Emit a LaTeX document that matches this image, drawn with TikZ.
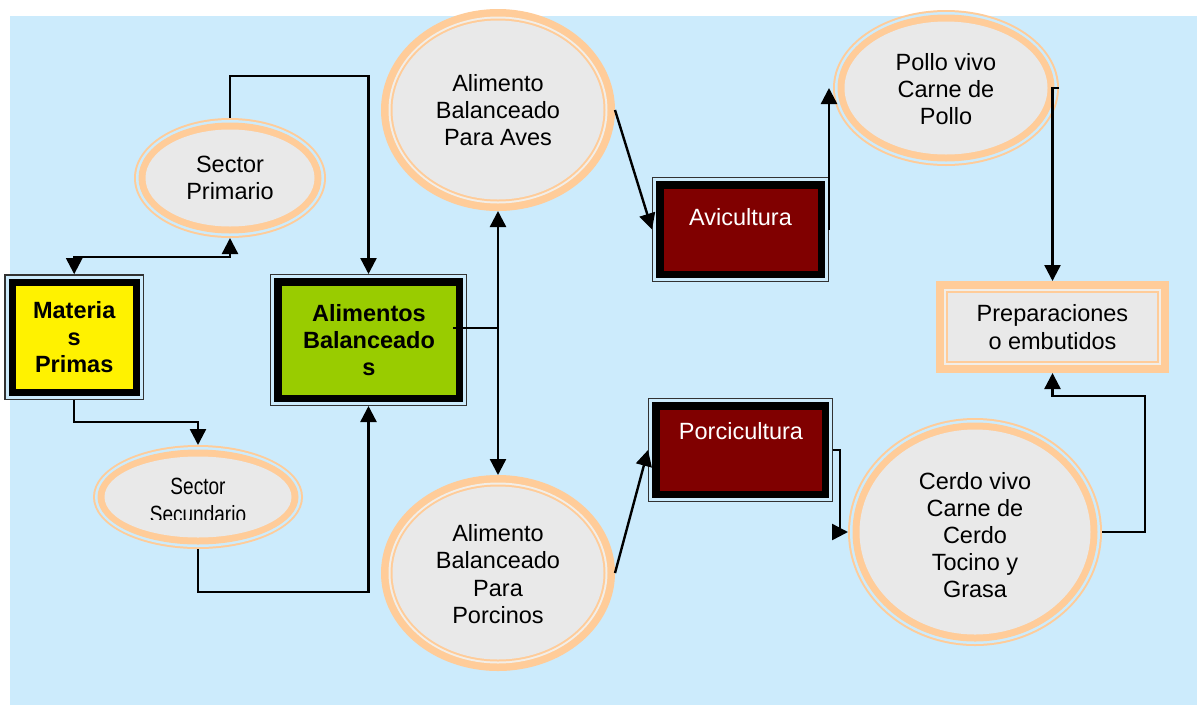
\documentclass[tikz,border=0pt]{standalone}
\usepackage{fontspec}
\setmainfont{Liberation Sans}
\usetikzlibrary{arrows.meta,shapes.geometric}
\definecolor{bgblue}{RGB}{204,235,252}
\definecolor{peach}{RGB}{255,204,153}
\definecolor{fillgray}{RGB}{233,233,233}
\definecolor{paleline}{RGB}{242,238,232}
\definecolor{darkred}{RGB}{128,0,0}
\definecolor{limegreen}{RGB}{153,204,0}
\definecolor{boxline}{RGB}{50,50,50}
\tikzset{
  conn/.style={line width=2.4pt, -{Triangle[length=16pt,width=16pt]}},
  conntwo/.style={line width=2.4pt, {Triangle[length=16pt,width=16pt]}-{Triangle[length=16pt,width=16pt]}},
  plainline/.style={line width=1.5pt},
  lbl/.style={align=center, font=\fontsize{23.5}{27.2}\selectfont, inner sep=0pt},
  lblb/.style={align=center, font=\fontsize{23.5}{27.2}\selectfont\bfseries, inner sep=0pt},
  anchorbox/.style={inner sep=0pt, outer sep=0pt, draw=none},
}
% ellipse: thin outer ring, gap, thick inner band
\newcommand\ringA[5]{%
  \node[anchorbox, ellipse, minimum width=2*#4, minimum height=2*#5] (#1) at (#2,#3) {};
  \fill[peach] (#1.center) ellipse [x radius=#4pt, y radius=#5pt];
  \fill[bgblue] (#1.center) ellipse [x radius=#4pt-2pt, y radius=#5pt-2pt];
  \fill[peach] (#1.center) ellipse [x radius=#4pt-4.5pt, y radius=#5pt-4.5pt];
  \fill[fillgray] (#1.center) ellipse [x radius=#4pt-11.5pt, y radius=#5pt-11.5pt];
}
% ellipse: thick outer band, pale line, thin inner ring
\newcommand\ringB[5]{%
  \node[anchorbox, ellipse, minimum width=2*#4, minimum height=2*#5] (#1) at (#2,#3) {};
  \fill[peach] (#1.center) ellipse [x radius=#4pt, y radius=#5pt];
  \fill[paleline] (#1.center) ellipse [x radius=#4pt-7.5pt, y radius=#5pt-7.5pt];
  \fill[peach] (#1.center) ellipse [x radius=#4pt-9.5pt, y radius=#5pt-9.5pt];
  \fill[fillgray] (#1.center) ellipse [x radius=#4pt-11.5pt, y radius=#5pt-11.5pt];
}
% rectangle: thin outer line, gap, thick black frame, fill
\newcommand\dblbox[6]{%
  \node[anchorbox, minimum width=#4, minimum height=#5] (#1) at (#2,#3) {};
  \fill[boxline] (#1.north west) rectangle (#1.south east);
  \fill[bgblue] ([shift={(1.3,1.3)}]#1.north west) rectangle ([shift={(-1.3,-1.3)}]#1.south east);
  \fill[black] ([shift={(4.3,4.3)}]#1.north west) rectangle ([shift={(-4.3,-4.3)}]#1.south east);
  \fill[#6] ([shift={(11.5,11.5)}]#1.north west) rectangle ([shift={(-11.5,-11.5)}]#1.south east);
}
\begin{document}
\begin{tikzpicture}[x=1pt,y=-1pt]
\useasboundingbox (0,0) rectangle (1197,705);
\fill[white] (0,0) rectangle (1197,705);
\fill[bgblue] (10,16) rectangle (1197,705);

% boxes
\dblbox{mp}{74.2}{337.2}{140}{126}{yellow}
\dblbox{ab}{368.5}{340}{197}{132}{limegreen}
\dblbox{av}{740.5}{229.5}{177}{105}{darkred}
\dblbox{pc}{740.5}{450}{185}{104}{darkred}

% Preparaciones box
\node[anchorbox, minimum width=233, minimum height=92] (pe) at (1052.5,327) {};
\fill[peach] (pe.north west) rectangle (pe.south east);
\fill[paleline] ([shift={(7.7,7.7)}]pe.north west) rectangle ([shift={(-7.7,-7.7)}]pe.south east);
\fill[peach] ([shift={(9.7,9.7)}]pe.north west) rectangle ([shift={(-9.7,-9.7)}]pe.south east);
\fill[fillgray] ([shift={(11.7,11.7)}]pe.north west) rectangle ([shift={(-11.7,-11.7)}]pe.south east);

% ellipses
\ringA{sp}{230}{178}{96}{60}
\ringA{ss}{198}{497}{105}{52}
\ringB{aa}{498}{110}{117}{101}
\ringB{ap}{498}{573}{117}{98}
\ringA{pv}{946}{88}{113}{78}
\ringA{cv}{975}{532}{127}{114}

% texts
\node[lblb] (tmp) at (74.2,337) {Materia\\s\\Primas};
\node[lblb] (tab) at (369,340) {Alimentos\\Balanceado\\s};
\node[lbl, text=white, anchor=base] (tav) at (740.5,225) {Avicultura};
\node[lbl, text=white, anchor=base] (tpc) at (741,439) {Porcicultura};
\node[lbl] (tpe) at (1052.5,327) {Preparaciones\\o embutidos};
\node[lbl] (tsp) at (230,178) {Sector\\Primario};
\begin{scope}
\clip (0,0) rectangle (1197,519.5);
\node[lbl] (tss) at (198,503) {\scalebox{0.81}[1]{\begin{tabular}{@{}c@{}}Sector\\Secundario\end{tabular}}};
\end{scope}
\node[lbl] (taa) at (498,110) {Alimento\\Balanceado\\Para Aves};
\node[lbl] (tap) at (498,574) {Alimento\\Balanceado\\Para\\Porcinos};
\node[lbl] (tpv) at (946,89) {Pollo vivo\\Carne de\\Pollo};
\node[lbl] (tcv) at (975,535) {Cerdo vivo\\Carne de\\Cerdo\\Tocino y\\Grasa};

% connectors
\draw[conn] (sp.north) -- ++(0,-42) -| (ab.north);
\draw[conntwo] (mp.north) -- ++(0,-17) -| (sp.south);
\draw[conn] (mp.south) -- ++(0,22) -| (ss.north);
\draw[conn] (ss.south) -- ++(0,43) -| (ab.south);
\draw[conntwo] (aa.south) -- (ap.north);
\coordinate (jn) at ([shift={(-14,-12)}]ab.east);
\draw[plainline] (jn) -- (jn -| aa.south);
\draw[conn] (aa.east) -- (av.west);
\draw[conn] (av.east) -- (av.east |- pv.west);
\draw[conn] (pv.east) -| (pe.north);
\draw[conn] (ap.east) -- (pc.west);
\draw[conn] (pc.east) -- ++(7,0) |- (cv.west);
\draw[conn] (cv.east) -- ++(43,0) -- ++(0,-136) -| (pe.south);
\end{tikzpicture}
\end{document}
